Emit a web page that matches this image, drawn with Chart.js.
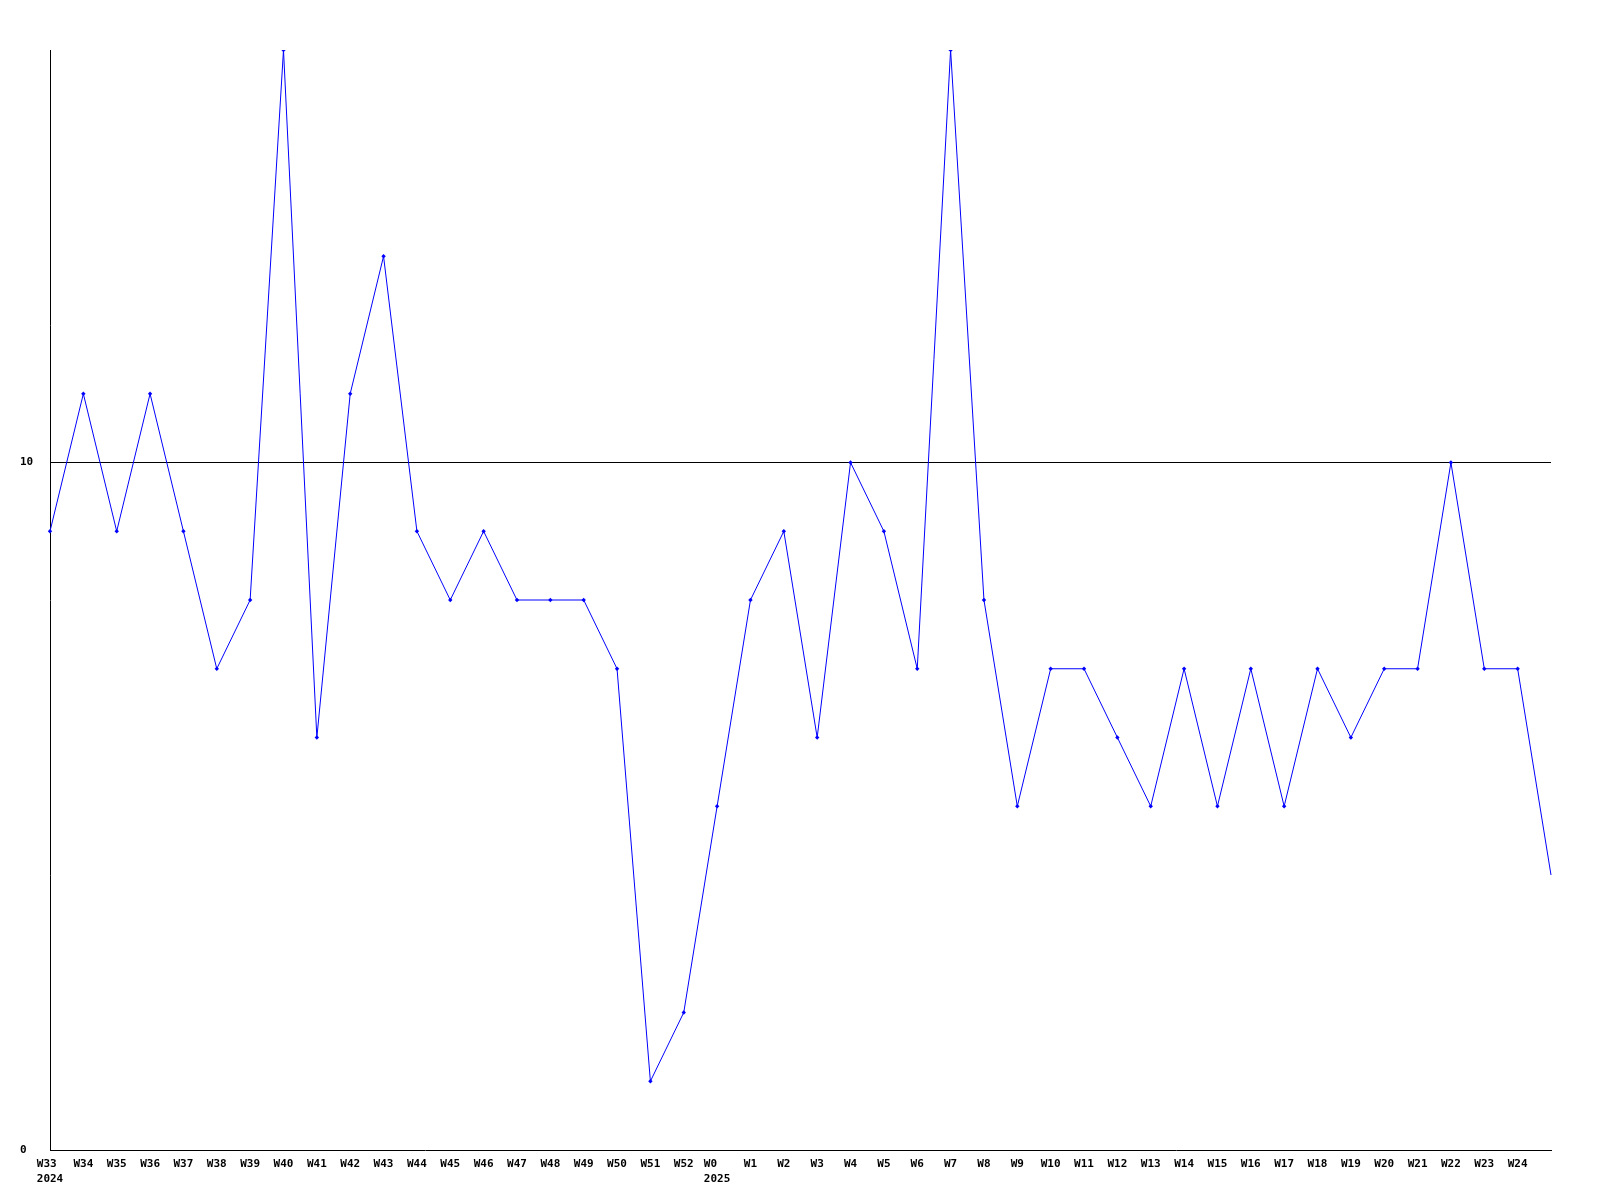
<!DOCTYPE html>
<html>
<head>
<meta charset="utf-8">
<script src="https://cdn.jsdelivr.net/npm/chart.js@4.4.0/dist/chart.umd.min.js"></script>
<style>
  html, body { margin: 0; padding: 0; background: #fff; }
  #wrap { width: 1600px; height: 1200px; }
</style>
</head>
<body>
<div id="wrap"><canvas id="grafico" width="1600" height="1200"></canvas></div>
<script>
// Semanas e valores
const semanas = ["W33","W34","W35","W36","W37","W38","W39","W40","W41","W42","W43","W44","W45","W46","W47","W48","W49","W50","W51","W52",
  "W0","W1","W2","W3","W4","W5","W6","W7","W8","W9","W10","W11","W12","W13","W14","W15","W16","W17","W18","W19","W20","W21","W22","W23","W24",""];
const anos = { "W33": "2024", "W0": "2025" };
const valores = [9,11,9,11,9,7,8,16,6,11,13,9,8,9,8,8,8,7,1,2,
  5,8,9,6,10,9,7,16,8,5,7,7,6,5,7,5,7,5,7,6,7,7,10,7,7,4];
const ticksY = [0, 10];

// rotulo com o ano na segunda linha (alinhado a esquerda com a semana)
const rotulos = semanas.map(s => anos[s] ? [s + " ".repeat(anos[s].length - s.length), anos[s]] : s);
const fonte = { family: "'DejaVu Sans Mono', monospace", size: 11, weight: "bold", lineHeight: 1.35 };

new Chart(document.getElementById("grafico").getContext("2d"), {
  type: "line",
  data: {
    labels: rotulos,
    datasets: [{
      data: valores,
      borderColor: "#0000ff",
      backgroundColor: "#0000ff",
      borderWidth: 1,
      tension: 0,
      pointStyle: "rectRot",
      pointRadius: c => c.dataIndex === valores.length - 1 ? 0 : 2.2,
      pointBorderWidth: 0
    }]
  },
  options: {
    responsive: false,
    animation: false,
    layout: { padding: { top: 50, right: 49, left: 20, bottom: 0 } },
    plugins: { legend: { display: false }, tooltip: { enabled: false } },
    scales: {
      x: {
        offset: false,
        grid: { display: false, drawTicks: false },
        border: { color: "#000", width: 1 },
        ticks: { autoSkip: false, maxRotation: 0, minRotation: 0, color: "#000", font: fonte, padding: 7 },
        afterFit: s => { s.height = 50; }
      },
      y: {
        min: 0,
        max: 16,
        afterBuildTicks: s => { s.ticks = ticksY.map(v => ({ value: v })); },
        grid: {
          drawTicks: false,
          color: c => c.tick && c.tick.value === 10 ? "#000" : "rgba(0,0,0,0)",
          lineWidth: 1
        },
        border: { color: "#000", width: 1 },
        ticks: { color: "#000", font: fonte, crossAlign: "far" },
        afterFit: s => { s.width = 30; }
      }
    }
  }
});
</script>
</body>
</html>
